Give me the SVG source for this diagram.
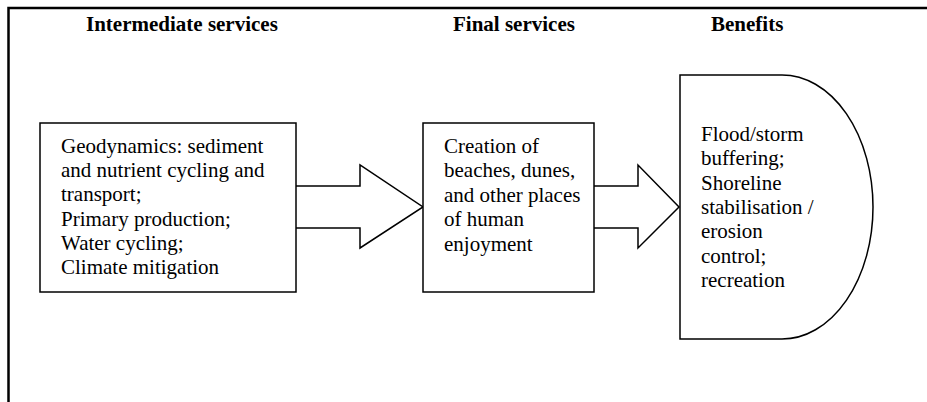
<svg xmlns="http://www.w3.org/2000/svg" width="927" height="402" viewBox="0 0 927 402">
<style>
text{font-family:'Liberation Serif',Tinos,'Times New Roman',Times,'DejaVu Serif',serif;font-size:21px;fill:#000}
.hdr{font-weight:bold}
.shape{fill:#fff;stroke:#000;stroke-width:1.5}
.frame{fill:none;stroke:#000;stroke-width:2.5}
</style>
<rect width="927" height="402" fill="#fff"/>
<g id="frame">
<path class="frame" d="M8.5,402 V8 H927"/>
</g>
<g id="headers">
<text class="hdr" x="86" y="31">Intermediate services</text>
<text class="hdr" x="453" y="31">Final services</text>
<text class="hdr" x="711" y="31">Benefits</text>
</g>
<g id="connectors">
<path class="shape" d="M296,186 H360 V165 L423,207 L360,248 V228 H296"/>
<path class="shape" d="M594,186 H638 V165 L679,207 L638,248 V228 H594"/>
</g>
<g id="intermediate">
<rect class="shape" x="40" y="123" width="256" height="169"/>
<text x="61" y="153">Geodynamics: sediment</text>
<text x="61" y="177">and nutrient cycling and</text>
<text x="61" y="201">transport;</text>
<text x="61" y="226">Primary production;</text>
<text x="61" y="250">Water cycling;</text>
<text x="61" y="274">Climate mitigation</text>
</g>
<g id="final">
<rect class="shape" x="423" y="123" width="171" height="169"/>
<text x="444" y="153">Creation of</text>
<text x="444" y="177">beaches, dunes,</text>
<text x="444" y="202">and other places</text>
<text x="444" y="226">of human</text>
<text x="444" y="251">enjoyment</text>
</g>
<g id="benefits">
<path class="shape" d="M680,75 H782 A91,132 0 0 1 782,339 H680 Z"/>
<text x="701" y="141">Flood/storm</text>
<text x="701" y="165">buffering;</text>
<text x="701" y="190">Shoreline</text>
<text x="701" y="214">stabilisation /</text>
<text x="701" y="238">erosion</text>
<text x="701" y="263">control;</text>
<text x="701" y="287">recreation</text>
</g>
</svg>
